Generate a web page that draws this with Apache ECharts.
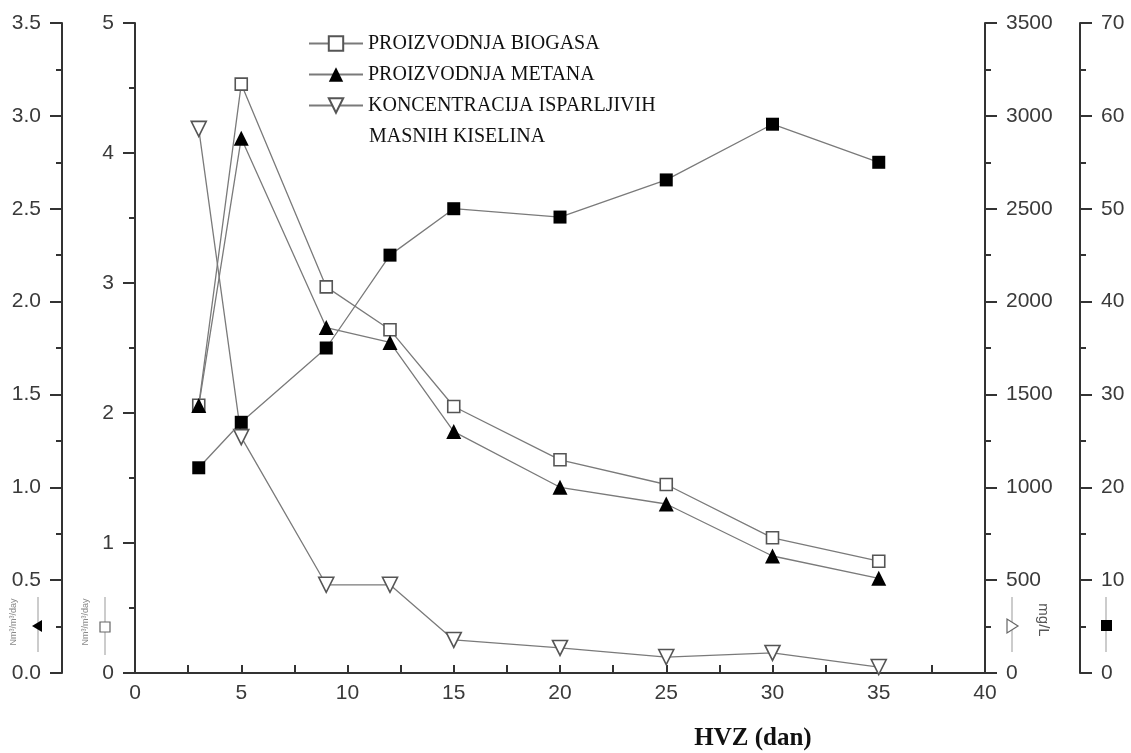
<!DOCTYPE html>
<html>
<head>
<meta charset="utf-8">
<script src="https://cdn.jsdelivr.net/npm/echarts@6/dist/echarts.min.js"></script>
<style>
html,body{margin:0;padding:0;background:#fff;}
#chart{width:1131px;height:753px;}
</style>
</head>
<body>
<div id="chart"></div>
<script>
// ---- data ----
var days = [3, 5, 9, 12, 15, 20, 25, 30, 35];
var biogas = [2.06, 4.53, 2.97, 2.64, 2.05, 1.64, 1.45, 1.04, 0.86];      // Nm3/m3/day (0-5 axis)
var methane = [1.44, 2.88, 1.86, 1.78, 1.30, 1.00, 0.91, 0.63, 0.51];     // Nm3/m3/day (0-3.5 axis)
var vfa = [2930, 1270, 475, 475, 178, 135, 86, 108, 32];                  // mg/L (0-3500 axis)
var squares = [22.1, 27.0, 35.0, 45.0, 50.0, 49.1, 53.1, 59.1, 55.0];     // (0-70 axis)
var seriesNames = ['PROIZVODNJA BIOGASA', 'PROIZVODNJA METANA', 'KONCENTRACIJA ISPARLJIVIH MASNIH KISELINA', 'SQ'];
var xName = 'HVZ (dan)';

function pairs(xs, ys) { return xs.map(function (x, i) { return [x, ys[i]]; }); }

var FONT = 'Liberation Sans, Arial, sans-serif';
var SERIF = 'Liberation Serif, Times New Roman, serif';
var AX = '#333';
var LINE = '#7a7a7a';

function yAxis(min, max, interval, pos, offset, fmt) {
  return {
    type: 'value', min: min, max: max, interval: interval,
    position: pos, offset: offset,
    axisLine: { show: true, onZero: false, lineStyle: { color: AX, width: 2 } },
    axisTick: { show: true, inside: false, length: 12, lineStyle: { color: AX, width: 2 } },
    minorTick: { show: true, splitNumber: 2, length: 6, lineStyle: { color: AX, width: 2 } },
    axisLabel: { margin: 21, fontSize: 21, color: '#3a3a3a', fontFamily: FONT, formatter: fmt },
    splitLine: { show: false }
  };
}

var chart = echarts.init(document.getElementById('chart'), null, { renderer: 'canvas' });
var option = {
  backgroundColor: '#ffffff',
  animation: false,
  grid: { left: 135, right: 146, top: 23, bottom: 80, containLabel: false, outerBoundsMode: 'none' },
  legend: {
    orient: 'vertical', left: 303, top: 23, padding: 5,
    itemGap: 0, itemWidth: 54, itemHeight: 18,
    data: seriesNames.slice(0, 3),
    formatter: function (n) { return n === seriesNames[2] ? 'KONCENTRACIJA ISPARLJIVIH' : n; },
    textStyle: { fontFamily: SERIF, fontSize: 20, color: '#111', lineHeight: 31 }
  },
  xAxis: {
    type: 'value', min: 0, max: 40, interval: 5,
    name: xName, nameLocation: 'middle', nameGap: 53,
    nameTextStyle: { fontFamily: SERIF, fontWeight: 'bold', fontSize: 25, color: '#111', padding: [0, 0, 0, 386] },
    axisLine: { show: true, onZero: false, lineStyle: { color: AX, width: 2 } },
    axisTick: { show: true, inside: true, length: 8, lineStyle: { color: AX, width: 2 } },
    minorTick: { show: true, splitNumber: 2, length: 8, lineStyle: { color: AX, width: 2 } },
    axisLabel: { margin: 10, fontSize: 21, color: '#3a3a3a', fontFamily: FONT },
    splitLine: { show: false }
  },
  yAxis: [
    yAxis(0, 3.5, 0.5, 'left', 73, function (v) { return v.toFixed(1); }),
    yAxis(0, 5, 1, 'left', 0, function (v) { return String(v); }),
    yAxis(0, 3500, 500, 'right', 0, function (v) { return String(v); }),
    yAxis(0, 70, 10, 'right', 95, function (v) { return String(v); })
  ],
  series: [
    {
      name: seriesNames[0], type: 'line', yAxisIndex: 1, data: pairs(days, biogas),
      symbol: 'rect', symbolSize: 12, z: 4,
      lineStyle: { color: LINE, width: 1.3 },
      itemStyle: { color: '#ffffff', borderColor: '#555', borderWidth: 1.6 }
    },
    {
      name: seriesNames[1], type: 'line', yAxisIndex: 0, data: pairs(days, methane),
      symbol: 'triangle', symbolSize: 15, z: 5,
      lineStyle: { color: LINE, width: 1.3 },
      itemStyle: { color: '#000000', borderColor: '#000', borderWidth: 0 }
    },
    {
      name: seriesNames[2], type: 'line', yAxisIndex: 2, data: pairs(days, vfa),
      symbol: 'triangle', symbolRotate: 180, symbolSize: 15, z: 3,
      lineStyle: { color: LINE, width: 1.3 },
      itemStyle: { color: '#ffffff', borderColor: '#555', borderWidth: 1.6 }
    },
    {
      name: seriesNames[3], type: 'line', yAxisIndex: 3, data: pairs(days, squares),
      symbol: 'rect', symbolSize: 13, z: 6,
      lineStyle: { color: LINE, width: 1.3 },
      itemStyle: { color: '#000000' }
    }
  ],
  graphic: [
    // second line of the third legend entry
    { type: 'text', left: 369, top: 127, style: { text: 'MASNIH KISELINA', font: '20px ' + SERIF, fill: '#111' } },
    // leftmost axis unit marker
    { type: 'text', x: 14, y: 622, rotation: Math.PI / 2,
      style: { text: 'Nm³/m³/day', font: '9px ' + FONT, fill: '#888', align: 'center', verticalAlign: 'middle' } },
    { type: 'line', shape: { x1: 38, y1: 597, x2: 38, y2: 652 }, style: { stroke: '#999', lineWidth: 1 } },
    { type: 'polygon', shape: { points: [[32, 626], [42, 620], [42, 632]] }, style: { fill: '#000' }, z: 10 },
    // second left axis unit marker
    { type: 'text', x: 86, y: 622, rotation: Math.PI / 2,
      style: { text: 'Nm³/m³/day', font: '9px ' + FONT, fill: '#888', align: 'center', verticalAlign: 'middle' } },
    { type: 'line', shape: { x1: 105, y1: 597, x2: 105, y2: 655 }, style: { stroke: '#999', lineWidth: 1 } },
    { type: 'rect', shape: { x: 100, y: 622, width: 10, height: 10 }, style: { fill: '#fff', stroke: '#666', lineWidth: 1.2 }, z: 10 },
    // right axis unit marker
    { type: 'line', shape: { x1: 1012, y1: 597, x2: 1012, y2: 652 }, style: { stroke: '#999', lineWidth: 1 } },
    { type: 'polygon', shape: { points: [[1007, 619], [1007, 633], [1018, 626]] }, style: { fill: '#fff', stroke: '#666', lineWidth: 1.2 }, z: 10 },
    { type: 'text', x: 1043, y: 620, rotation: -Math.PI / 2,
      style: { text: 'mg/L', font: '15px ' + FONT, fill: '#555', align: 'center', verticalAlign: 'middle' } },
    // far right axis unit marker
    { type: 'line', shape: { x1: 1106, y1: 597, x2: 1106, y2: 652 }, style: { stroke: '#999', lineWidth: 1 } },
    { type: 'rect', shape: { x: 1101, y: 620, width: 11, height: 11 }, style: { fill: '#000' }, z: 10 }
  ]
};
chart.setOption(option);
</script>
</body>
</html>
